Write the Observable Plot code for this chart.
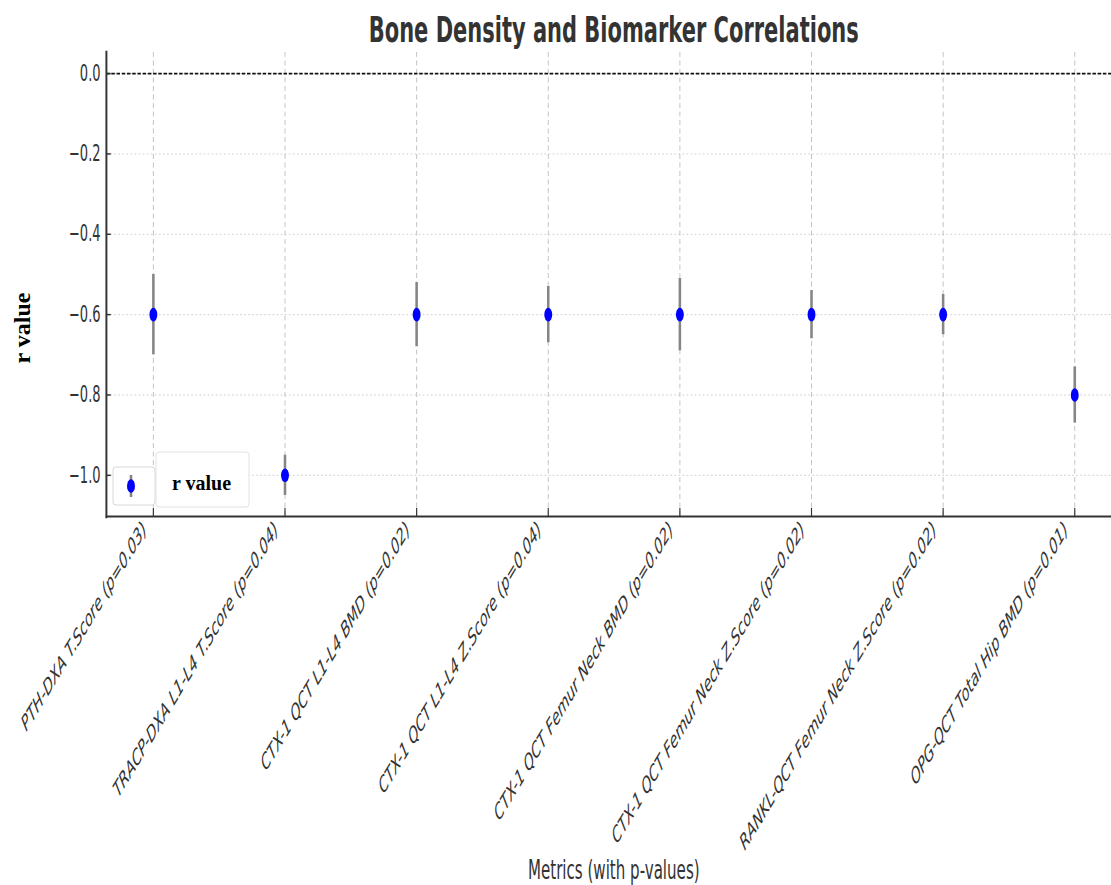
<!DOCTYPE html>
<html>
<head>
<meta charset="utf-8">
<script src="https://cdn.jsdelivr.net/npm/d3@7"></script>
<script src="https://cdn.jsdelivr.net/npm/@observablehq/plot@0.6"></script>
<style>
  html, body { margin: 0; padding: 0; background: #fff; }
  #wrap { position: relative; width: 1111px; height: 885px; overflow: hidden; }
  #overlay { position: absolute; left: 0; top: 0; pointer-events: none; }
  g[aria-label="x-axis tick label"] text { font-style: italic; }
</style>
</head>
<body>
<div id="wrap"></div>
<script>
// ---- data ----
const metrics = [
  "PTH-DXA T.Score (p=0.03)",
  "TRACP-DXA L1-L4 T.Score (p=0.04)",
  "CTX-1 QCT L1-L4 BMD (p=0.02)",
  "CTX-1 QCT L1-L4 Z.Score (p=0.04)",
  "CTX-1 QCT Femur Neck BMD (p=0.02)",
  "CTX-1 QCT Femur Neck Z.Score (p=0.02)",
  "RANKL-QCT Femur Neck Z.Score (p=0.02)",
  "OPG-QCT Total Hip BMD (p=0.01)"
];
const rValues = [-0.6, -1.0, -0.6, -0.6, -0.6, -0.6, -0.6, -0.8];
const errors  = [0.10, 0.05, 0.08, 0.07, 0.09, 0.06, 0.05, 0.07];
const yTicks  = [0, -0.2, -0.4, -0.6, -0.8, -1.0];
const titleText = "Bone Density and Biomarker Correlations";
const xLabel = "Metrics (with p-values)";
const yLabel = "r value";
const legendLabel = "r value";

const rows = metrics.map((m, i) => ({metric: m, r: rValues[i], lo: rValues[i] - errors[i], hi: rValues[i] + errors[i]}));

// The reference is horizontally compressed; draw in wide space and squish.
const W = 1933, H = 885;

const chart = Plot.plot({
  width: W,
  height: H,
  marginLeft: 183,
  marginRight: 0,
  marginTop: 52,
  marginBottom: 369,
  style: {fontFamily: "DejaVu Sans", background: "white"},
  x: {type: "point", domain: metrics, padding: 0.35},
  y: {domain: [-1.1025, 0.0525]},
  marks: [
    Plot.gridX({stroke: "#c4c4c4", strokeOpacity: 1, strokeWidth: 1.7, strokeDasharray: "5,3.5"}),
    Plot.gridY(yTicks, {stroke: "#c4c4c4", strokeOpacity: 1, strokeWidth: 1, strokeDasharray: "3,4"}),
    Plot.ruleY([0], {stroke: "#111", strokeWidth: 1.6, strokeDasharray: "6,3"}),
    Plot.ruleX(rows, {x: "metric", y1: "lo", y2: "hi", stroke: "#858585", strokeWidth: 4.4}),
    Plot.dot(rows, {x: "metric", y: "r", r: 6.8, fill: "#0000ff", stroke: "none"}),
    Plot.frame({anchor: "left", stroke: "#333", strokeWidth: 3.4}),
    Plot.frame({anchor: "bottom", stroke: "#333", strokeWidth: 2}),
    Plot.axisY({ticks: yTicks, tickSize: 8, dx: 8, stroke: "#333", strokeWidth: 1.5, tickFormat: () => ""}),
    Plot.axisY({ticks: yTicks, tickSize: 0, tickPadding: 10, tickFormat: d3.format(".1f"), fontSize: 22.5, color: "#333", label: null}),
    Plot.axisX({tickSize: 8, dy: -8, stroke: "#333", strokeWidth: 2, tickFormat: () => "", label: null}),
    Plot.axisX({tickSize: 0, tickPadding: 9, dx: -15, tickRotate: -44, textAnchor: "end", lineAnchor: "middle", fontSize: 22, fontStyle: "italic", color: "#333", label: null}),
    Plot.text([titleText], {frameAnchor: "top", dy: -22, lineAnchor: "middle", fontSize: 36.2, fontWeight: "bold", fill: "#333"}),
    Plot.text([xLabel], {frameAnchor: "bottom", dy: 354, lineAnchor: "middle", fontSize: 26, fill: "#333"})
  ]
});

const svg = chart;
svg.setAttribute("viewBox", `0 0 1916 ${H}`);
svg.setAttribute("preserveAspectRatio", "none");
svg.setAttribute("width", 1111);
svg.setAttribute("height", H);
svg.style.width = "1111px";
svg.style.height = H + "px";
svg.style.maxWidth = "none";
document.getElementById("wrap").appendChild(svg);

// overlay (unsquished): y label and legend
const ov = d3.select("#wrap").append("svg").attr("id", "overlay").attr("width", 1111).attr("height", H);
ov.append("text")
  .attr("transform", "translate(30,328) rotate(-90)")
  .attr("text-anchor", "middle")
  .attr("font-family", "Liberation Serif, Times New Roman, serif")
  .attr("font-weight", "bold").attr("font-size", 24).attr("fill", "#000")
  .text(yLabel);

const lg = ov.append("g");
lg.append("rect").attr("x", 113).attr("y", 467).attr("width", 42).attr("height", 38).attr("rx", 3)
  .attr("fill", "white").attr("stroke", "#d8d8d8").attr("stroke-width", 1);
lg.append("line").attr("x1", 131).attr("x2", 131).attr("y1", 475).attr("y2", 497)
  .attr("stroke", "#858585").attr("stroke-width", 2.6);
lg.append("ellipse").attr("cx", 131).attr("cy", 486).attr("rx", 4).attr("ry", 6.8).attr("fill", "#0000ff");
lg.append("rect").attr("x", 156).attr("y", 452).attr("width", 93).attr("height", 55).attr("rx", 3)
  .attr("fill", "white").attr("stroke", "#e2e2e2").attr("stroke-width", 1);
lg.append("text").attr("x", 172).attr("y", 490)
  .attr("font-family", "Liberation Serif, Times New Roman, serif")
  .attr("font-weight", "bold").attr("font-size", 20).attr("fill", "#000")
  .text(legendLabel);
</script>
</body>
</html>
